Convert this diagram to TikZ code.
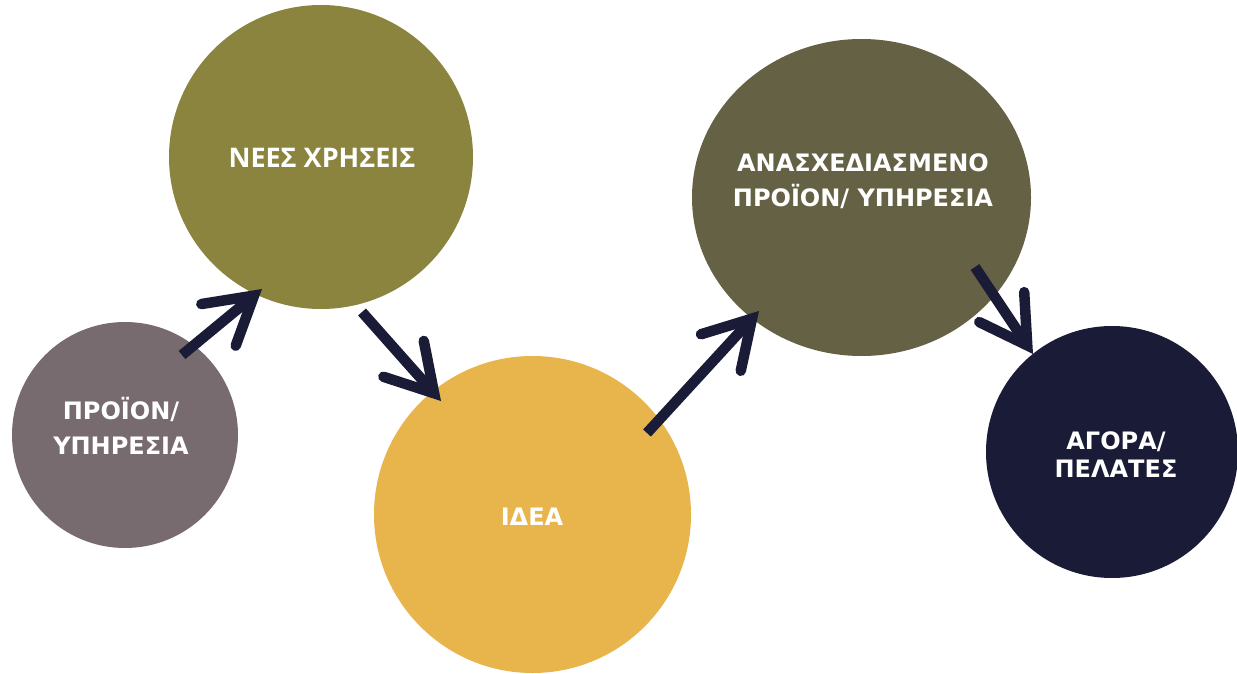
\documentclass[tikz,border=0pt]{standalone}
\usepackage{fontspec}
\usetikzlibrary{arrows.meta,shapes.geometric}
\newfontfamily\dejavu{DejaVu Sans}
\newfontfamily\osans{Open Sans}
\definecolor{cgray}{HTML}{776B70}
\definecolor{colive}{HTML}{8A843F}
\definecolor{cyellow}{HTML}{E7B54C}
\definecolor{cdolive}{HTML}{646144}
\definecolor{cnavy}{HTML}{1A1B37}
\begin{document}
\begin{tikzpicture}[x=1pt,y=-1pt,
  blob/.style={circle, inner sep=0pt, draw=none},
  lbl/.style={text=white, align=center, inner sep=0pt, font=\dejavu\bfseries\fontsize{24}{35}\selectfont},
  arr/.style={line width=10.5pt, draw=cnavy, -{Straight Barb[length=46pt,width=54pt,line cap=round,line join=miter]}}]
\useasboundingbox[fill=white] (0,0) rectangle (1237,674);
% circles
\node[blob, fill=cgray, minimum size=226pt] (c1) at (125,435) {};
\node[blob, fill=colive, minimum size=304pt] (c2) at (321,157) {};
\node[blob, fill=cyellow, minimum size=317pt] (c3) at (532.5,514.5) {};
\node[ellipse, inner sep=0pt, fill=cdolive, minimum width=339pt, minimum height=317pt] (c4) at (861.5,197.5) {};
\node[blob, fill=cnavy, minimum size=252pt] (c5) at (1112,452) {};
% labels
\node[lbl] (t1) at (121,425.5) {ΠΡΟΪΟΝ/\\ΥΠΗΡΕΣΙΑ};
\node[lbl, font=\osans\bfseries\fontsize{27}{32}\selectfont] (t2) at (322,158) {ΝΕΕΣ ΧΡΗΣΕΙΣ};
\node[lbl] (t3) at (532,517) {ΙΔΕΑ};
\node[lbl] (t4) at (863,181.5) {ΑΝΑΣΧΕΔΙΑΣΜΕΝΟ\\ΠΡΟΪΟΝ/ ΥΠΗΡΕΣΙΑ};
\node[lbl, font=\dejavu\bfseries\fontsize{24}{28}\selectfont] (t5) at (1116,455) {ΑΓΟΡΑ/\\ΠΕΛΑΤΕΣ};
% arrow ends
\coordinate (a1s) at (182,355); \coordinate (a1e) at (262,289);
\coordinate (a2s) at (362,312); \coordinate (a2e) at (441,401);
\coordinate (a3s) at (647,433); \coordinate (a3e) at (759,311);
\coordinate (a4s) at (975,267); \coordinate (a4e) at (1033,354);
\draw[arr] (a1s) -- (a1e);
\draw[arr] (a2s) -- (a2e);
\draw[arr] (a3s) -- (a3e);
\draw[arr] (a4s) -- (a4e);
\end{tikzpicture}
\end{document}
